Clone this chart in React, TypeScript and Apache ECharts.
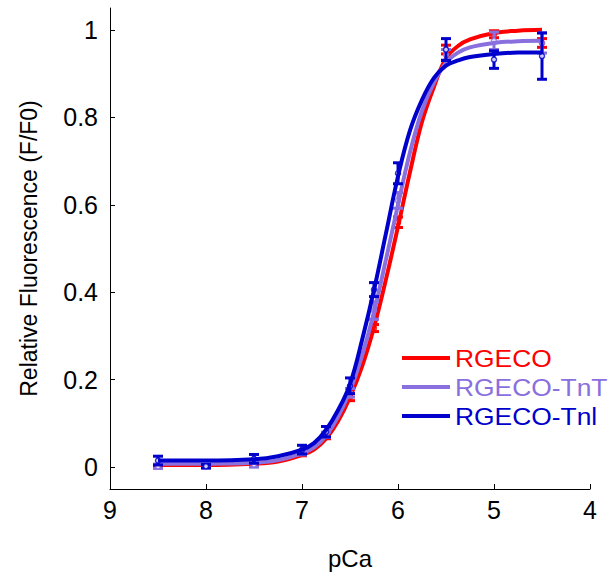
import React, { useEffect, useRef } from "react";
import * as echarts from "echarts";

// Fitted curves
const pCaCurve = [8.5, 8, 7.5, 7.25, 7, 6.875, 6.75, 6.625, 6.5, 6.375, 6.25, 6.125, 6, 5.875, 5.75, 5.625, 5.5, 5.375, 5.25, 5, 4.75, 4.5];
const rgecoCurve = [0.005, 0.005, 0.008, 0.013, 0.028, 0.04, 0.065, 0.105, 0.16, 0.23, 0.32, 0.43, 0.55, 0.675, 0.79, 0.87, 0.935, 0.963, 0.978, 0.993, 0.998, 1.0];
const tntCurve = [0.008, 0.008, 0.01, 0.016, 0.032, 0.045, 0.072, 0.115, 0.175, 0.255, 0.355, 0.475, 0.6, 0.72, 0.815, 0.88, 0.925, 0.948, 0.96, 0.97, 0.974, 0.975];
const tniCurve = [0.015, 0.015, 0.018, 0.025, 0.04, 0.055, 0.085, 0.13, 0.19, 0.29, 0.405, 0.535, 0.665, 0.77, 0.84, 0.89, 0.918, 0.93, 0.938, 0.945, 0.948, 0.948];

// Measured points with error (mean, sem)
const pCaData = [8.5, 8, 7.5, 7, 6.75, 6.5, 6.25, 6, 5.5, 5, 4.5];
const rgecoMean = [0.003, 0.005, 0.008, 0.03, 0.07, 0.16, 0.318, 0.56, 0.955, 0.99, 0.97];
const rgecoErr = [0.003, 0.004, 0.004, 0.004, 0.005, 0.008, 0.008, 0.012, 0.01, 0.008, 0.01];
const tntMean = [0.002, 0.003, 0.006, 0.033, 0.074, 0.17, 0.358, 0.61, 0.943, 0.975, 0.97];
const tntErr = [0.005, 0.005, 0.006, 0.005, 0.006, 0.01, 0.02, 0.018, 0.012, 0.02, 0.023];
const tniMean = [0.015, 0.002, 0.019, 0.04, 0.081, 0.186, 0.406, 0.672, 0.955, 0.932, 0.94];
const tniErr = [0.01, 0.004, 0.01, 0.01, 0.012, 0.018, 0.016, 0.024, 0.025, 0.02, 0.053];

const yTicks = [0, 0.2, 0.4, 0.6, 0.8, 1];
const seriesNames = ["RGECO", "RGECO-TnT", "RGECO-TnI"];
const legendLabels = ["RGECO", "RGECO-TnT", "RGECO-Tnl"];
const colors = ["#ff0000", "#8a6fdf", "#0000cc"];

const FONT = "'Liberation Sans', Arial, sans-serif";

export default function App() {
  const ref = useRef<HTMLDivElement>(null);
  useEffect(() => {
    if (!ref.current) return;
    document.body.style.margin = "0";
    document.body.style.overflow = "hidden";
    const chart = echarts.init(ref.current, null, { renderer: "svg" });
    const curves = [rgecoCurve, tntCurve, tniCurve];
    const means = [rgecoMean, tntMean, tniMean];
    const errs = [rgecoErr, tntErr, tniErr];
    const series: any[] = [];
    for (let k = 0; k < 3; k++) {
      const color = colors[k];
      series.push({
        name: seriesNames[k] + " err",
        type: "custom",
        z: 2 + k * 3,
        data: pCaData.map((x, i) => [x, means[k][i] - errs[k][i], means[k][i] + errs[k][i]]),
        encode: { x: 0, y: [1, 2] },
        renderItem: (params: any, api: any) => {
          const x = api.value(0);
          const lo = api.coord([x, api.value(1)]);
          const hi = api.coord([x, api.value(2)]);
          const hw = 5;
          const st = { stroke: color, lineWidth: 3 };
          return {
            type: "group",
            children: [
              { type: "line", shape: { x1: lo[0], y1: lo[1], x2: hi[0], y2: hi[1] }, style: st },
              { type: "line", shape: { x1: lo[0] - hw, y1: lo[1], x2: lo[0] + hw, y2: lo[1] }, style: st },
              { type: "line", shape: { x1: hi[0] - hw, y1: hi[1], x2: hi[0] + hw, y2: hi[1] }, style: st },
            ],
          };
        },
      });
      series.push({
        name: seriesNames[k] + " pts",
        type: "scatter",
        z: 3 + k * 3,
        symbol: "circle",
        symbolSize: 5,
        itemStyle: { color: "#ffffff", borderColor: color, borderWidth: 1.5 },
        data: pCaData.map((x, i) => [x, means[k][i]]),
      });
      series.push({
        name: seriesNames[k],
        type: "line",
        z: 4 + k * 3,
        smooth: 0.4,
        showSymbol: false,
        lineStyle: { color, width: 4 },
        data: pCaCurve.map((x, i) => [x, curves[k][i]]),
      });
    }
    const legendRows = [358, 387, 416];
    const graphic: any[] = [];
    for (let k = 0; k < 3; k++) {
      graphic.push({
        type: "line",
        shape: { x1: 402, y1: legendRows[k], x2: 450, y2: legendRows[k] },
        style: { stroke: colors[k], lineWidth: 4 },
      });
      graphic.push({
        type: "text",
        x: 455,
        y: legendRows[k],
        scaleX: 1.1,
        style: {
          text: legendLabels[k],
          fill: colors[k],
          font: `24px ${FONT}`,
          verticalAlign: "middle",
          align: "left",
        },
      });
    }
    chart.setOption({
      animation: false,
      backgroundColor: "#ffffff",
      grid: { left: 110, right: 20, top: 8, bottom: 92 },
      xAxis: {
        type: "value",
        min: 4,
        max: 9,
        interval: 1,
        inverse: true,
        name: "pCa",
        nameLocation: "middle",
        nameGap: 57,
        nameTextStyle: { fontSize: 24, color: "#000", fontFamily: FONT },
        axisLine: { show: true, onZero: false, lineStyle: { color: "#000", width: 1 } },
        axisTick: { show: true, inside: true, length: 5, lineStyle: { color: "#000" } },
        axisLabel: { fontSize: 25, color: "#000", fontFamily: FONT, margin: 8 },
        splitLine: { show: false },
      },
      yAxis: {
        type: "value",
        min: -0.05,
        max: 1.05,
        name: "Relative Fluorescence (F/F0)",
        nameLocation: "middle",
        nameGap: 70,
        nameTextStyle: { fontSize: 23, color: "#000", fontFamily: FONT },
        axisLine: { show: true, onZero: false, lineStyle: { color: "#000", width: 1 } },
        axisTick: { show: true, inside: true, length: 5, lineStyle: { color: "#000" }, customValues: yTicks },
        axisLabel: { fontSize: 25, color: "#000", fontFamily: FONT, margin: 12, customValues: yTicks },
        splitLine: { show: false },
      },
      series,
      graphic,
    });
    return () => chart.dispose();
  }, []);
  return <div ref={ref} style={{ width: 610, height: 581 }} />;
}
